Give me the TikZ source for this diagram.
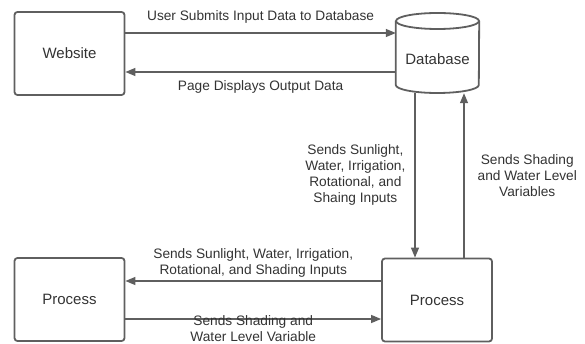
\documentclass[tikz,border=0pt]{standalone}
\usepackage{fontspec}
\setmainfont{Liberation Sans}
\usetikzlibrary{arrows.meta}
\definecolor{ln}{HTML}{5F5F5F}
\definecolor{tx}{HTML}{333333}
\begin{document}
\begin{tikzpicture}[x=1pt,y=1pt,
	box/.style={draw=ln,line width=1.8pt,rounded corners=3pt,minimum width=110pt,minimum height=83pt,text=tx,font=\fontsize{15}{18}\selectfont},
	lbl/.style={text=tx,align=center,font=\fontsize{13.7}{16}\selectfont,inner sep=2pt},
	arr/.style={draw=ln,line width=1.3pt,-{Triangle[length=10pt,width=8pt]}}]
	\useasboundingbox (0,0) rectangle (585,-344);
	\node[box] (web) at (69.5,-53.5) {Website};
	\node[box] (procL) at (69.5,-299.5) {Process};
	\node[box] (procR) at (437,-300) {Process};
	% database cylinder
	\node[minimum width=83pt,minimum height=68pt,text=tx,font=\fontsize{15}{18}\selectfont] (db) at (437.5,-59) {Database};
	\draw[ln,line width=1.8pt] (db.west |- 0,-21) -- (db.west |- 0,-85) arc[start angle=180,end angle=360,x radius=41.5pt,y radius=8pt] -- (db.east |- 0,-21);
	\draw[ln,line width=1.8pt,fill=white] (437.5,-21) ellipse[x radius=41.5pt,y radius=8pt];
	% connectors
	\draw[arr] ([yshift=20.5pt]web.east) -- ([yshift=20.5pt]web.east -| db.west) node[lbl,midway,above=7pt] {User Submits Input Data to Database};
	\draw[arr] ([yshift=-18.5pt]web.east -| db.west) -- ([yshift=-18.5pt]web.east) node[lbl,midway,below=6pt] {Page Displays Output Data};
	\draw[arr] ([xshift=-22.5pt]db.south) -- ([xshift=-22.5pt]db.south |- procR.north) node[lbl,midway,left=7pt] {Sends Sunlight,\\Water, Irrigation,\\Rotational, and\\Shaing Inputs};
	\draw[arr] ([xshift=26.5pt]db.south |- procR.north) -- ([xshift=26.5pt]db.south) node[lbl,midway,right=11pt] {Sends Shading\\and Water Level\\Variables};
	\draw[arr] ([yshift=19pt]procR.west) -- ([yshift=19pt]procR.west -| procL.east) node[lbl,midway,above=1pt] {Sends Sunlight, Water, Irrigation,\\Rotational, and Shading Inputs};
	\draw[arr] ([yshift=-19.5pt]procL.east) -- ([yshift=-19.5pt]procL.east -| procR.west) node[lbl,midway,below=-6pt] {Sends Shading and\\Water Level Variable};
\end{tikzpicture}
\end{document}
